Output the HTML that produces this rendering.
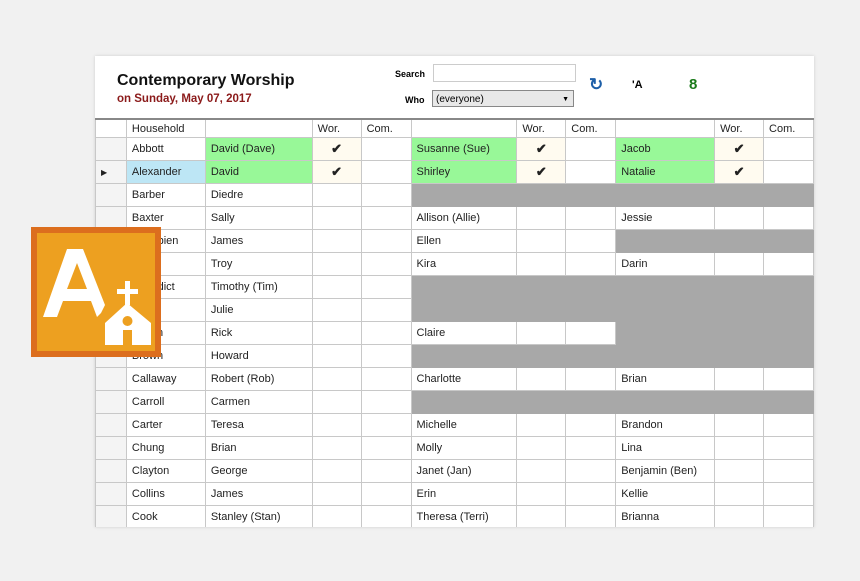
<!DOCTYPE html>
<html><head><style>
body{margin:0;width:860px;height:581px;background:#f1f1f1;position:relative;overflow:hidden;font-family:"Liberation Sans",sans-serif}
#p{position:absolute;left:95px;top:56px;width:719px;height:471px;background:#fff;box-shadow:0 0 3px #ccc;overflow:hidden}
.t{position:absolute}
table{position:absolute;left:0;top:62px;border-collapse:collapse;table-layout:fixed;font-size:11px;color:#222}
td{border:1px solid #c8c8c8;height:22px;padding:0 0 0 5px;white-space:nowrap;overflow:hidden}
tr.h td{height:17px;background:#fff;border-top:2px solid #888}
.g{background:#98f898}.b{background:#bde6f5}.k{background:#fffbf0;text-align:center;padding:0;font-size:13px;font-weight:bold}.x{background:#a8a8a8;border-color:#a8a8a8}
.s{background:#f4f4f4}
</style></head><body>
<div id="p">
<div class="t" style="left:22px;top:16px;font-size:16px;font-weight:bold;color:#111">Contemporary Worship</div>
<div class="t" style="left:22px;top:37px;font-size:11.5px;font-weight:bold;color:#8b1a1a">on Sunday, May 07, 2017</div>
<div class="t" style="left:300px;top:13px;font-size:9px;font-weight:bold">Search</div>
<div class="t" style="left:338px;top:8px;width:141px;height:16px;border:1px solid #ccc"></div>
<div class="t" style="left:310px;top:39px;font-size:9px;font-weight:bold">Who</div>
<div class="t" style="left:337px;top:34px;width:142px;height:17px;border:1px solid #888;background:#e8e8e8;font-size:10px;line-height:17px;padding-left:3px;box-sizing:border-box">(everyone)<span style="position:absolute;right:4px;font-size:7px">▼</span></div>
<div class="t" style="left:494px;top:19px;font-size:17px;color:#1d5fa8;font-weight:bold">↻</div>
<div class="t" style="left:537px;top:23px;font-size:11px;font-weight:bold">'A</div>
<div class="t" style="left:594px;top:20px;font-size:15px;font-weight:bold;color:#1a7a1a">8</div>
<table>
<colgroup><col style="width:31px"><col style="width:79px"><col style="width:107px"><col style="width:49px"><col style="width:50px"><col style="width:106px"><col style="width:49px"><col style="width:50px"><col style="width:99px"><col style="width:49px"><col style="width:50px"></colgroup>
<tr class="h"><td class="s"></td><td>Household</td><td></td><td>Wor.</td><td>Com.</td><td></td><td>Wor.</td><td>Com.</td><td></td><td>Wor.</td><td>Com.</td></tr>
<tr><td class="s"></td><td>Abbott</td><td class="g">David (Dave)</td><td class="k">✔</td><td></td><td class="g">Susanne (Sue)</td><td class="k">✔</td><td></td><td class="g">Jacob</td><td class="k">✔</td><td></td></tr>
<tr><td class="s" style="font-size:8px">▶</td><td class="b">Alexander</td><td class="g">David</td><td class="k">✔</td><td></td><td class="g">Shirley</td><td class="k">✔</td><td></td><td class="g">Natalie</td><td class="k">✔</td><td></td></tr>
<tr><td class="s"></td><td>Barber</td><td>Diedre</td><td></td><td></td><td class="x" colspan="6"></td></tr>
<tr><td class="s"></td><td>Baxter</td><td>Sally</td><td></td><td></td><td>Allison (Allie)</td><td></td><td></td><td>Jessie</td><td></td><td></td></tr>
<tr><td class="s"></td><td>Beaubien</td><td>James</td><td></td><td></td><td>Ellen</td><td></td><td></td><td class="x" colspan="3"></td></tr>
<tr><td class="s"></td><td>Bell</td><td>Troy</td><td></td><td></td><td>Kira</td><td></td><td></td><td>Darin</td><td></td><td></td></tr>
<tr><td class="s"></td><td>Benedict</td><td>Timothy (Tim)</td><td></td><td></td><td class="x" colspan="6"></td></tr>
<tr><td class="s"></td><td>Bess</td><td>Julie</td><td></td><td></td><td class="x" colspan="6"></td></tr>
<tr><td class="s"></td><td>Brown</td><td>Rick</td><td></td><td></td><td>Claire</td><td></td><td></td><td class="x" colspan="3"></td></tr>
<tr><td class="s"></td><td>Brown</td><td>Howard</td><td></td><td></td><td class="x" colspan="6"></td></tr>
<tr><td class="s"></td><td>Callaway</td><td>Robert (Rob)</td><td></td><td></td><td>Charlotte</td><td></td><td></td><td>Brian</td><td></td><td></td></tr>
<tr><td class="s"></td><td>Carroll</td><td>Carmen</td><td></td><td></td><td class="x" colspan="6"></td></tr>
<tr><td class="s"></td><td>Carter</td><td>Teresa</td><td></td><td></td><td>Michelle</td><td></td><td></td><td>Brandon</td><td></td><td></td></tr>
<tr><td class="s"></td><td>Chung</td><td>Brian</td><td></td><td></td><td>Molly</td><td></td><td></td><td>Lina</td><td></td><td></td></tr>
<tr><td class="s"></td><td>Clayton</td><td>George</td><td></td><td></td><td>Janet (Jan)</td><td></td><td></td><td>Benjamin (Ben)</td><td></td><td></td></tr>
<tr><td class="s"></td><td>Collins</td><td>James</td><td></td><td></td><td>Erin</td><td></td><td></td><td>Kellie</td><td></td><td></td></tr>
<tr><td class="s"></td><td>Cook</td><td>Stanley (Stan)</td><td></td><td></td><td>Theresa (Terri)</td><td></td><td></td><td>Brianna</td><td></td><td></td></tr>
</table>
</div>
<div class="t" style="left:31px;top:227px;width:118px;height:118px;background:#eda020;border:6px solid #dc6e1e">
<svg width="118" height="118" viewBox="0 0 118 118" style="position:absolute;left:0;top:0">
<path d="M30 16 L46 16 L68 72 L64 80 L60 84 L54 68 L26 68 L20 84 L6 84 Z M30 56 L50 56 L40 30 Z" fill="#fff"/>
<rect x="88" y="48" width="5" height="24" fill="#fff"/><rect x="80" y="56" width="21" height="5" fill="#fff"/>
<path d="M90 70 L114 90 L114 112 L68 112 L68 90 Z" fill="#fff"/>
<circle cx="90.5" cy="88" r="5" fill="#eda020"/><rect x="86" y="97" width="9" height="15" fill="#eda020"/>
</svg></div>
</body></html>
